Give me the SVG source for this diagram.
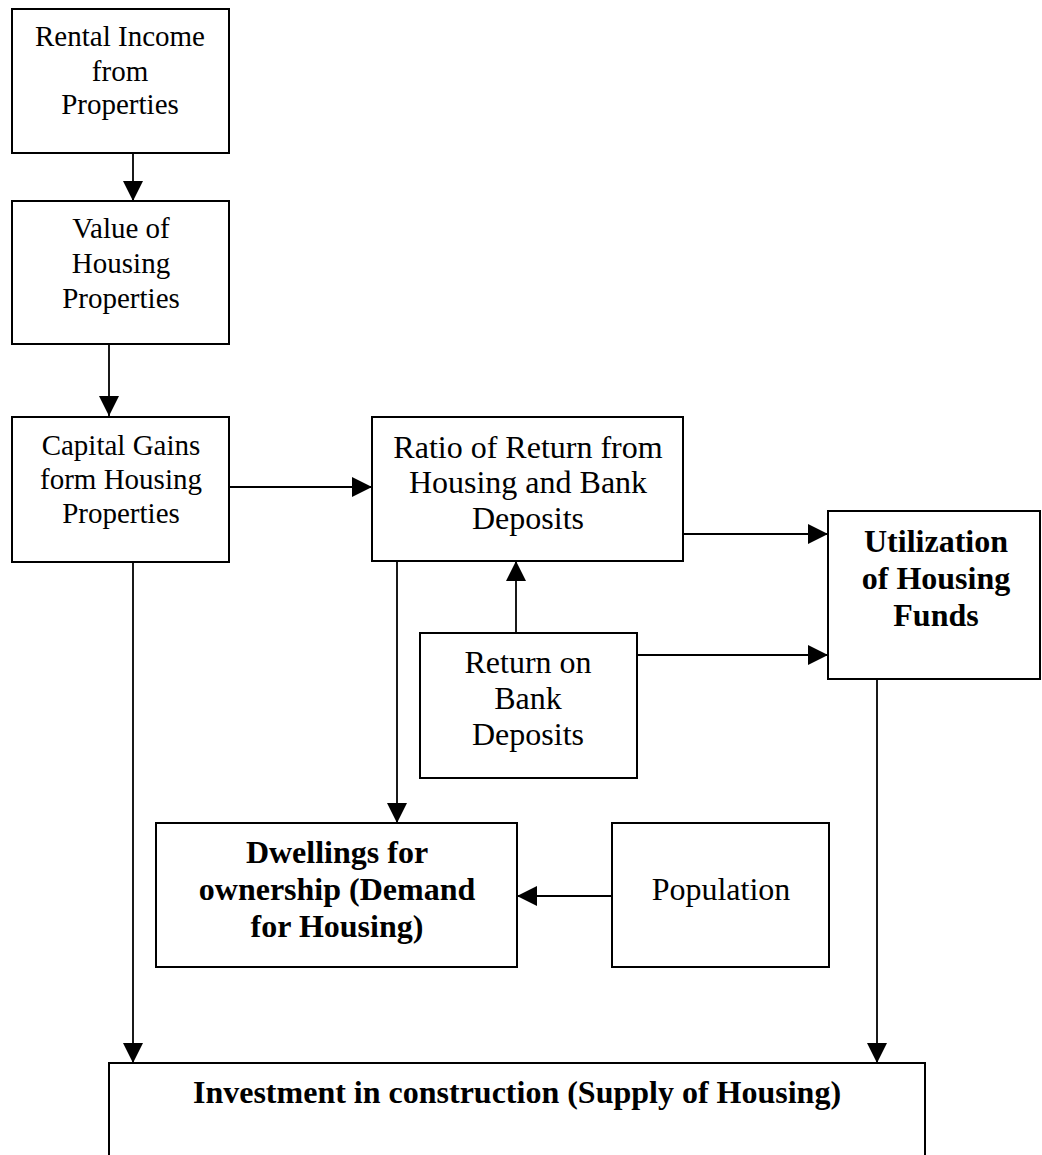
<svg xmlns="http://www.w3.org/2000/svg" width="1042" height="1155" viewBox="0 0 1042 1155">
  <style>
    .box { fill: #ffffff; stroke: #000000; stroke-width: 2; }
    .t { font-family: "Liberation Serif", "Times New Roman", serif; fill: #000000; text-anchor: middle; }
    .s { font-size: 29px; }
    .m { font-size: 32px; }
    .b { font-weight: bold; }
    .c { stroke: #000000; stroke-width: 1.8; fill: none; marker-end: url(#ah); }
  </style>
  <defs>
    <marker id="ah" markerUnits="userSpaceOnUse" markerWidth="20" markerHeight="20" refX="20" refY="10" orient="auto" viewBox="0 0 20 20">
      <path d="M0,0 L20,10 L0,20 Z" fill="#000000"/>
    </marker>
  </defs>
  <rect width="1042" height="1155" fill="#ffffff"/>

  <g id="connectors">
    <line class="c" x1="133" y1="153" x2="133" y2="201"/>
    <line class="c" x1="109" y1="344" x2="109" y2="416"/>
    <line class="c" x1="229" y1="487" x2="372" y2="487"/>
    <line class="c" x1="683" y1="534" x2="828" y2="534"/>
    <line class="c" x1="516" y1="633" x2="516" y2="561"/>
    <line class="c" x1="637" y1="655" x2="828" y2="655"/>
    <line class="c" x1="397" y1="561" x2="397" y2="823"/>
    <line class="c" x1="612" y1="896" x2="517" y2="896"/>
    <line class="c" x1="133" y1="562" x2="133" y2="1063"/>
    <line class="c" x1="877" y1="679" x2="877" y2="1063"/>
  </g>

  <g id="rental-income">
    <rect class="box" x="12" y="9" width="217" height="144"/>
    <text class="t s" x="120" y="46">Rental Income</text>
    <text class="t s" x="120" y="81">from</text>
    <text class="t s" x="120" y="114">Properties</text>
  </g>

  <g id="value-housing">
    <rect class="box" x="12" y="201" width="217" height="143"/>
    <text class="t s" x="121" y="238">Value of</text>
    <text class="t s" x="121" y="273">Housing</text>
    <text class="t s" x="121" y="308">Properties</text>
  </g>

  <g id="capital-gains">
    <rect class="box" x="12" y="417" width="217" height="145"/>
    <text class="t s" x="121" y="455">Capital Gains</text>
    <text class="t s" x="121" y="489">form Housing</text>
    <text class="t s" x="121" y="523">Properties</text>
  </g>

  <g id="ratio-return">
    <rect class="box" x="372" y="417" width="311" height="144"/>
    <text class="t m" x="528" y="458">Ratio of Return from</text>
    <text class="t m" x="528" y="493">Housing and Bank</text>
    <text class="t m" x="528" y="529">Deposits</text>
  </g>

  <g id="return-bank">
    <rect class="box" x="420" y="633" width="217" height="145"/>
    <text class="t m" x="528" y="673">Return on</text>
    <text class="t m" x="528" y="709">Bank</text>
    <text class="t m" x="528" y="745">Deposits</text>
  </g>

  <g id="utilization">
    <rect class="box" x="828" y="511" width="212" height="168"/>
    <text class="t m b" x="936" y="552">Utilization</text>
    <text class="t m b" x="936" y="589">of Housing</text>
    <text class="t m b" x="936" y="626">Funds</text>
  </g>

  <g id="dwellings">
    <rect class="box" x="156" y="823" width="361" height="144"/>
    <text class="t m b" x="337" y="863">Dwellings for</text>
    <text class="t m b" x="337" y="900">ownership (Demand</text>
    <text class="t m b" x="337" y="937">for Housing)</text>
  </g>

  <g id="population">
    <rect class="box" x="612" y="823" width="217" height="144"/>
    <text class="t m" x="721" y="900">Population</text>
  </g>

  <g id="investment">
    <rect class="box" x="109" y="1063" width="816" height="110"/>
    <text class="t m b" x="517" y="1103">Investment in construction (Supply of Housing)</text>
  </g>
</svg>
